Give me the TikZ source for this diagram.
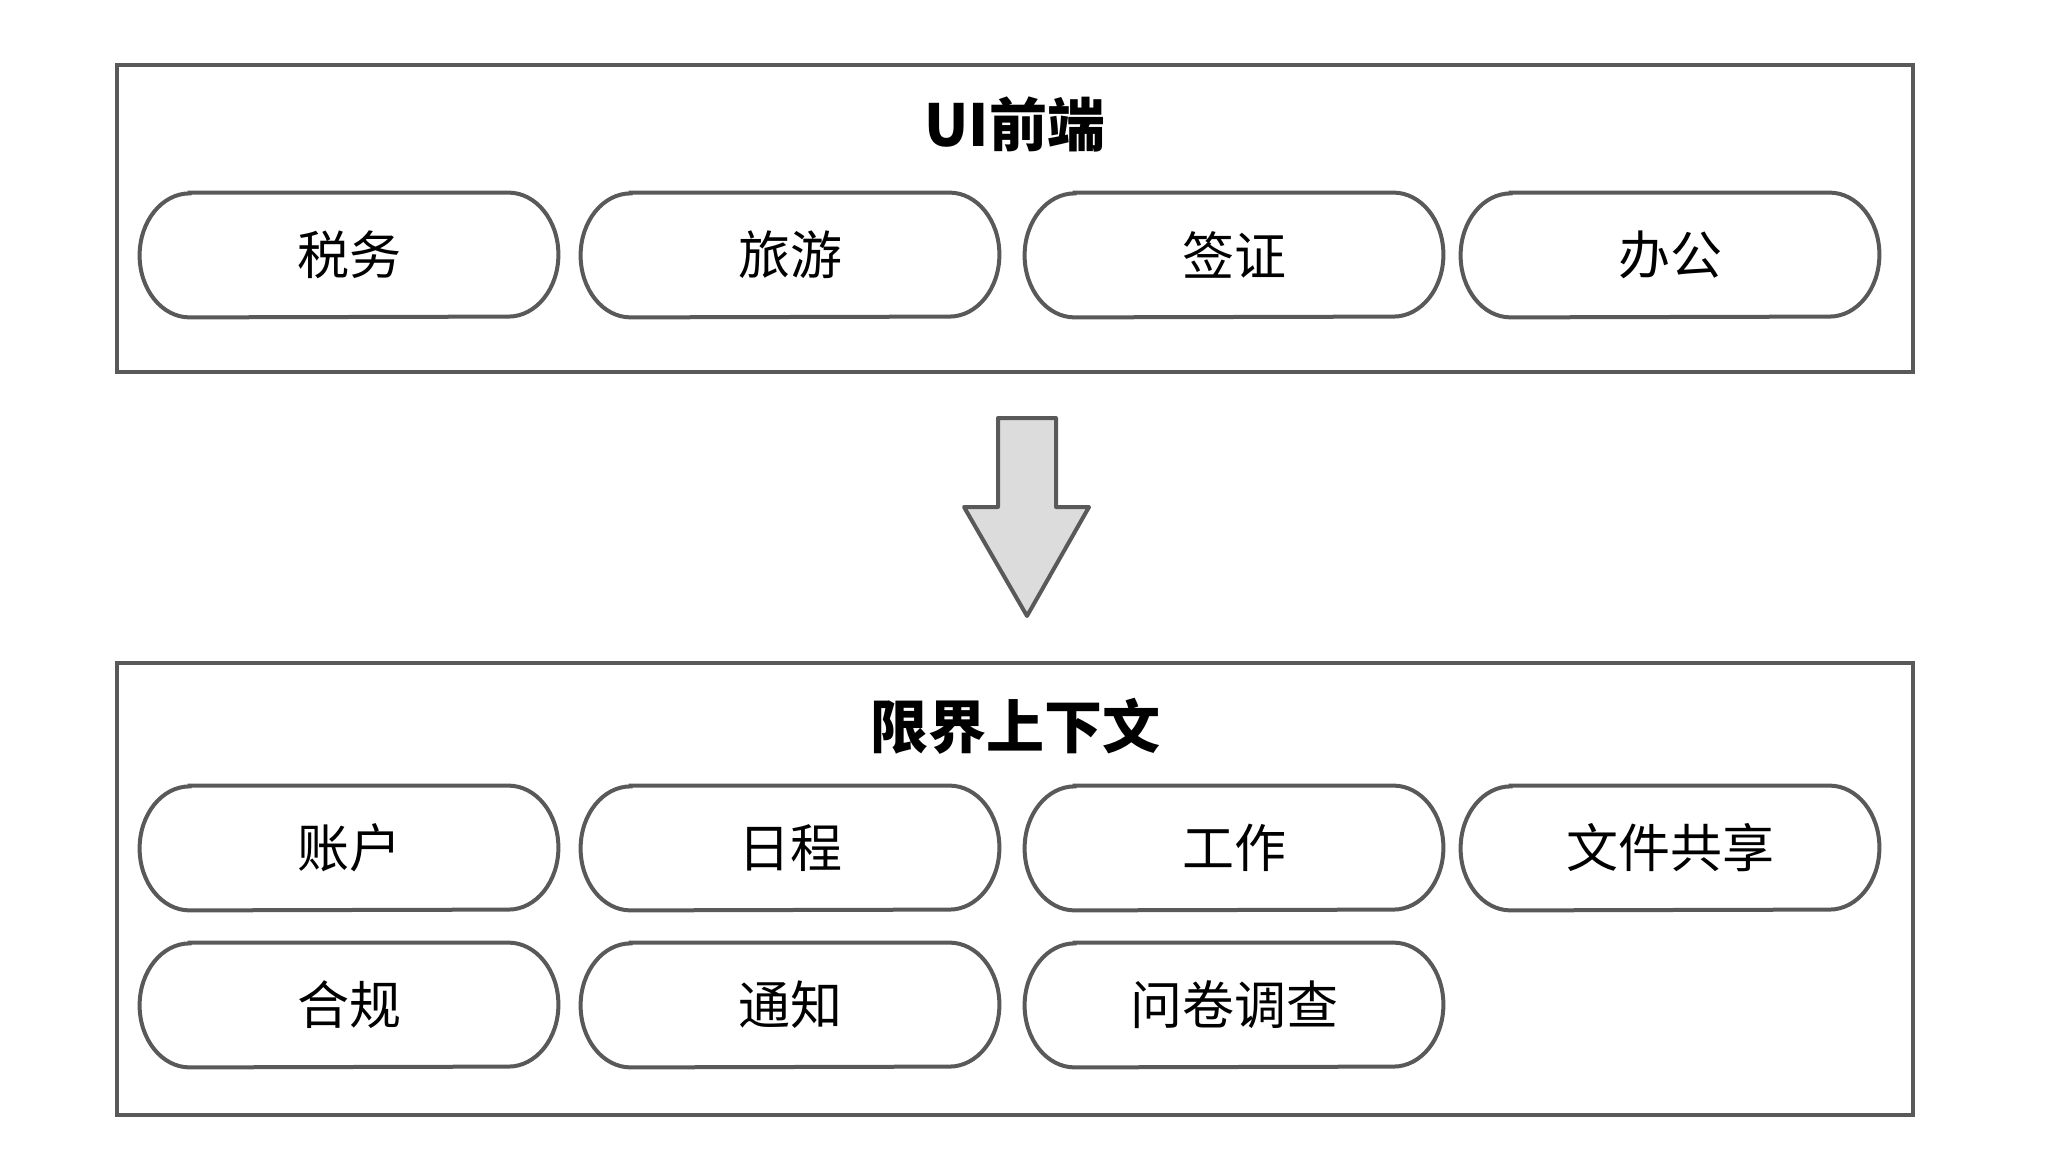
\documentclass[tikz,border=0pt]{standalone}
\usepackage{fontspec}
\newfontfamily\cjk{Noto Sans CJK SC}
\usetikzlibrary{positioning}

\begin{document}
\begin{tikzpicture}[x=0.5pt,y=-0.5pt]
	\definecolor{lineColour}{RGB}{89, 89, 89}
	\definecolor{arrowColour}{RGB}{220, 220, 220}
	\tikzstyle{frame}=[rectangle, draw, color=lineColour, line width=2pt, minimum width=898pt]
	\tikzstyle{caption}=[font=\cjk\bfseries\fontsize{29pt}{29pt}\selectfont, text=black]
	\tikzstyle{pill}=[rectangle, minimum width=209pt, minimum height=62pt, inner sep=0pt, font=\cjk\fontsize{26pt}{26pt}\selectfont, text=black]
	\tikzstyle{pillline}=[draw=lineColour, line width=2pt]

	\useasboundingbox (0,0) rectangle (2054,1176);

	% UI layer
	\node [frame, minimum height=153.5pt] (ui) at (1015,218.5) {};
	\node [caption] (uiTitle) at (1015,124) {UI前端};
	\node [pill] (tax) at (349,255) {税务};
	\node [pill] (travel) at (790,255) {旅游};
	\node [pill] (visa) at (1234,255) {签证};
	\node [pill] (office) at (1670,255) {办公};

	% bounded contexts
	\node [frame, minimum height=226pt] (bc) at (1015,889) {};
	\node [caption] (bcTitle) at (1015,726) {限界上下文};
	\node [pill] (account) at (349,848) {账户};
	\node [pill] (schedule) at (790,848) {日程};
	\node [pill] (work) at (1234,848) {工作};
	\node [pill] (share) at (1670,848) {文件共享};
	\node [pill] (comply) at (349,1005) {合规};
	\node [pill] (notify) at (790,1005) {通知};
	\node [pill] (survey) at (1234,1005) {问卷调查};

	\foreach \n in {tax,travel,visa,office,account,schedule,work,share,comply,notify,survey}
		\draw[pillline] ([xshift=25pt]\n.north west) -- ([xshift=-25pt]\n.north east)
			arc[start angle=90, end angle=-90, x radius=25pt, y radius=31pt]
			-- ([xshift=25pt]\n.south west)
			arc[start angle=270, end angle=90, x radius=25pt, y radius=31pt] -- cycle;

	% block arrow
	\draw[pillline, fill=arrowColour, line join=round]
		(998,418) -- (1056,418) -- (1056,507) -- (1089,507) -- (1027,616)
		-- (964,507) -- (998,507) -- cycle;
\end{tikzpicture}
\end{document}
